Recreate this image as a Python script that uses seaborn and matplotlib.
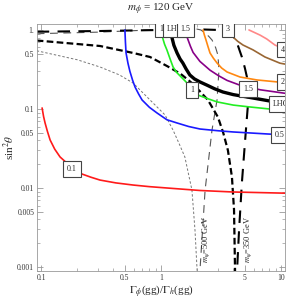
import numpy as np
import pandas as pd
import matplotlib
matplotlib.use("Agg")
import matplotlib.pyplot as plt
import seaborn as sns

# contour curves: x = Gamma_phi(gg)/Gamma_h(gg), s = sin^2(theta)
red_x = [0.102, 0.105, 0.108, 0.113, 0.119, 0.13, 0.144, 0.165, 0.19, 0.22, 0.26, 0.31, 0.42, 0.585, 0.8, 1.12, 2.11, 3.98, 10.8]
red_s = [0.103, 0.08, 0.0665, 0.052, 0.0405, 0.031, 0.0247, 0.0205, 0.0172, 0.015, 0.0137, 0.0126, 0.0116, 0.0109, 0.0104, 0.0100, 0.0093, 0.0089, 0.0086]

blue_x = [0.5, 0.505, 0.511, 0.53, 0.55, 0.58, 0.607, 0.65, 0.695, 0.8, 0.926, 1.12, 1.36, 1.7, 2.11, 3.0, 3.98, 7.64, 10.8]
blue_s = [1.0, 0.7, 0.512, 0.38, 0.3, 0.23, 0.19, 0.155, 0.13, 0.105, 0.089, 0.073, 0.0665, 0.06, 0.0558, 0.053, 0.0512, 0.0483, 0.047]

green_x = [1.0, 1.03, 1.07, 1.12, 1.19, 1.26, 1.35, 1.45, 1.65, 2.03, 2.45, 2.93, 4.0, 5.52, 8.0, 10.8]
green_s = [1.0, 0.8, 0.66, 0.558, 0.43, 0.34, 0.29, 0.26, 0.213, 0.15, 0.135, 0.123, 0.112, 0.106, 0.1, 0.097]

lhc_x = [1.21, 1.23, 1.28, 1.36, 1.44, 1.52, 1.62, 1.74, 1.9, 2.11, 2.42, 2.8, 3.28, 4.0, 5.2, 8.1, 10.8]
lhc_s = [1.0, 0.815, 0.64, 0.512, 0.43, 0.382, 0.32, 0.269, 0.24, 0.22, 0.2, 0.18, 0.164, 0.152, 0.142, 0.126, 0.12]

purple_x = [1.58, 1.63, 1.68, 1.76, 1.85, 2.11, 2.56, 3.0, 3.55, 4.55, 6.7, 10.8]
purple_s = [1.0, 0.85, 0.75, 0.62, 0.52, 0.4, 0.31, 0.265, 0.23, 0.2, 0.175, 0.158]

orange_x = [2.24, 2.3, 2.37, 2.46, 2.56, 2.73, 2.93, 3.2, 3.55, 4.55, 6.3, 9.3, 10.8]
orange_s = [1.0, 0.86, 0.747, 0.62, 0.512, 0.44, 0.382, 0.33, 0.294, 0.254, 0.233, 0.22, 0.215]

brown_x = [3.6, 3.75, 3.98, 4.35, 4.82, 5.84, 7.35, 9.8, 10.8]
brown_s = [1.0, 0.9, 0.815, 0.72, 0.645, 0.56, 0.455, 0.38, 0.37]

pink_x = [5.41, 6.0, 6.7, 7.6, 8.9, 10.8]
pink_s = [1.0, 0.93, 0.86, 0.77, 0.645, 0.57]

# m_psi = 350 GeV (thick black) and 500 GeV (thin grey) boundaries
m350_short_x = [0.092, 0.102, 0.31, 0.585, 0.81, 1.12, 1.45, 1.85, 2.46, 2.98, 3.3, 3.61, 3.9, 4.06, 4.14]
m350_short_s = [0.735, 0.726, 0.627, 0.512, 0.455, 0.35, 0.28, 0.207, 0.13, 0.079, 0.05, 0.030, 0.0138, 0.0053, 0.00089]

m500_short_x = [0.092, 0.102, 0.2, 0.31, 0.45, 0.585, 0.81, 1.08, 1.26, 1.42, 1.58, 1.81, 1.92, 2.0]
m500_short_s = [0.545, 0.527, 0.42, 0.34, 0.27, 0.213, 0.13, 0.084, 0.054, 0.036, 0.0247, 0.0094, 0.0029, 0.00089]

m350_long_x = [0.092, 0.31, 1.0, 2.0, 3.0, 3.6, 3.98, 4.35, 4.72, 5.0, 5.2, 5.3, 5.1, 4.72, 4.47, 4.3]
m350_long_s = [0.95, 0.97, 1.0, 1.02, 1.0, 0.93, 0.84, 0.65, 0.455, 0.33, 0.254, 0.112, 0.054, 0.0116, 0.0029, 0.00089]

m500_long_x = [0.092, 0.1, 0.31, 0.81, 1.4, 1.92, 2.15, 2.33, 2.5, 2.66, 2.85, 2.98, 3.04, 2.93, 2.66, 2.33, 2.11]
m500_long_s = [0.89, 0.9, 0.94, 1.0, 1.04, 1.04, 1.0, 0.916, 0.83, 0.747, 0.6, 0.48, 0.31, 0.13, 0.054, 0.0094, 0.00089]

# contour labels: text and where they sit
label_text = ["0.1", "0.5", "1", "1", "LHC", "1.5", "3", "4", "2", "1.5", "LHC"]
label_x = [0.181, 9.7, 1.81, 1.0, 1.3, 1.6, 3.61, 10.3, 10.3, 5.3, 9.9]
label_s = [0.0174, 0.0467, 0.174, 1.03, 1.03, 1.03, 1.03, 0.56, 0.22, 0.179, 0.116]

xticks = [0.1, 0.5, 1, 5, 10]
xtick_labels = ["0.1", "0.5", "1", "5", "10"]
yticks = [0.001, 0.005, 0.01, 0.05, 0.1, 0.5, 1]
ytick_labels = ["0.001", "0.005", "0.01", "0.05", "0.1", "0.5", "1."]

sns.set_style("ticks")
plt.rcParams["font.family"] = ["Liberation Serif", "DejaVu Serif"]
plt.rcParams["mathtext.fontset"] = "stix"

fig = plt.figure(figsize=(2.91, 3.0), dpi=100)
ax = fig.add_axes([37 / 291, 1 - 271 / 300, 248 / 291, 247 / 300])


def curve(xs, ys, **kw):
    df = pd.DataFrame({"x": xs, "s": ys})
    sns.lineplot(data=df, x="x", y="s", ax=ax, sort=False, estimator=None, **kw)


curve(m500_short_x, m500_short_s, color="#777777", lw=0.7, linestyle=(0, (2.5, 2)))
curve(m500_long_x, m500_long_s, color="#555555", lw=0.8, linestyle=(0, (7, 5)))
curve(m350_short_x, m350_short_s, color="black", lw=1.6, linestyle=(0, (3, 1.5)))
curve(m350_long_x, m350_long_s, color="black", lw=1.5, linestyle=(0, (6, 4)))

curve(red_x, red_s, color="#ff1a1a", lw=1.2)
curve(blue_x, blue_s, color="#1a1aff", lw=1.2)
curve(green_x, green_s, color="#22ee22", lw=1.2)
curve(purple_x, purple_s, color="#880088", lw=1.2)
curve(orange_x, orange_s, color="#ff8811", lw=1.2)
curve(brown_x, brown_s, color="#996633", lw=1.2)
curve(pink_x, pink_s, color="#ff8888", lw=1.2)
curve(lhc_x, lhc_s, color="black", lw=2.4)

ax.set_xscale("log")
ax.set_yscale("log")
ax.set_xlim(0.0925, 10.8)
ax.set_ylim(0.00089, 1.19)

order = [4, 0, 1, 2, 3, 5, 6, 7, 8, 9, 10]
for i in order:
    ax.text(label_x[i], label_s[i], label_text[i], fontsize=5.8, ha="center", va="center",
            zorder=5 + i, clip_on=True,
            bbox=dict(boxstyle="square,pad=0.45", fc="white", ec="#444444", lw=0.8))

ax.text(2.37, 0.0022, r"$m_\psi$=500 GeV", rotation=90, fontsize=6, ha="center", va="center")
ax.text(5.35, 0.0022, r"$m_\psi$=350 GeV", rotation=90, fontsize=6, ha="center", va="center")

ax.set_xticks(xticks, xtick_labels)
ax.set_yticks(yticks, ytick_labels)
ax.xaxis.set_minor_locator(matplotlib.ticker.LogLocator(subs=[2, 3, 4, 6, 7, 8, 9]))
ax.yaxis.set_minor_locator(matplotlib.ticker.LogLocator(subs=[2, 3, 4, 6, 7, 8, 9]))
ax.xaxis.set_minor_formatter(matplotlib.ticker.NullFormatter())
ax.yaxis.set_minor_formatter(matplotlib.ticker.NullFormatter())
ax.tick_params(which="both", direction="in", top=True, right=True, color="#999999",
               labelsize=5.5, labelcolor="#333333", pad=2)
ax.tick_params(which="major", length=4, width=0.6)
ax.tick_params(which="minor", length=2, width=0.5)
for sp in ax.spines.values():
    sp.set_color("#999999")
    sp.set_linewidth(0.6)

ax.set_xlabel(r"$\Gamma_\phi$(gg)/$\Gamma_h$(gg)", fontsize=8, labelpad=1)
ax.set_ylabel(r"sin$^2\theta$", fontsize=8)
ax.yaxis.set_label_coords(-0.082, 0.5)
ax.set_title(r"$m_\phi$ = 120 GeV", fontsize=8, pad=9)

fig.savefig("out.png", dpi=100)
